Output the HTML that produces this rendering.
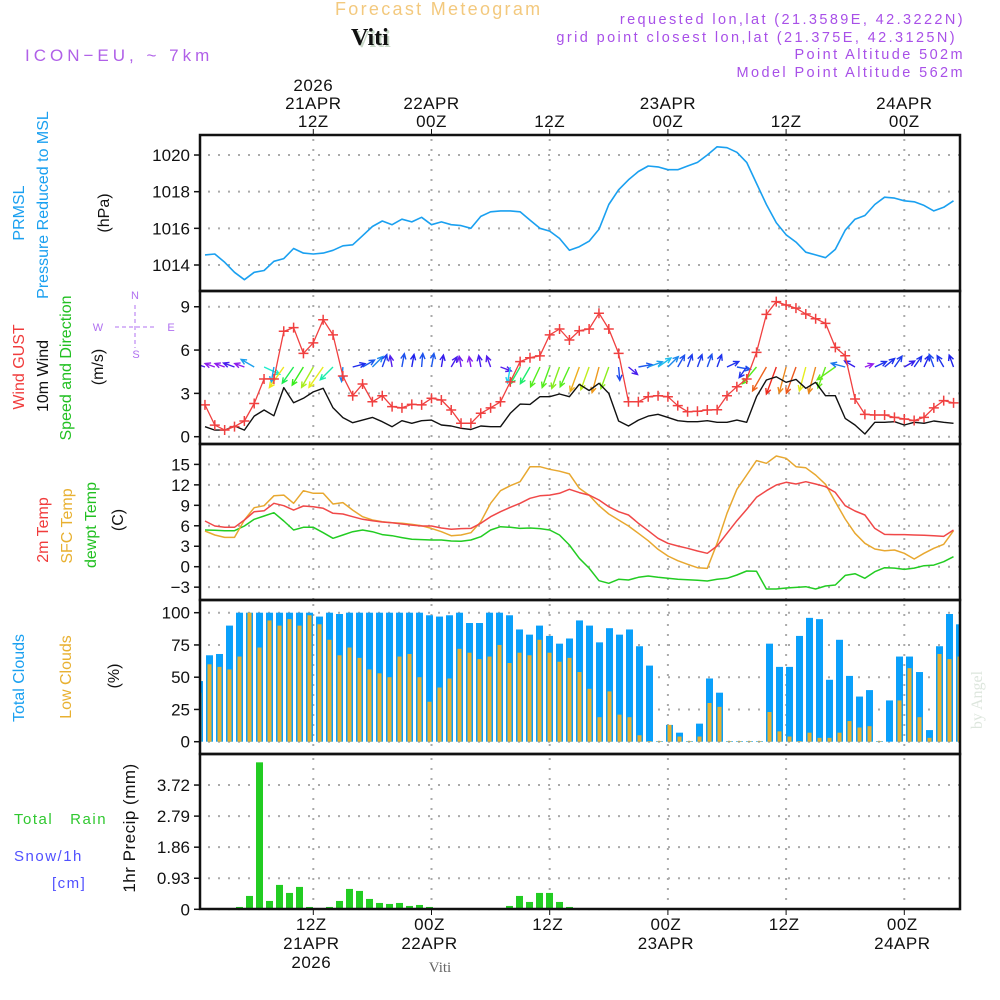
<!DOCTYPE html>
<html><head><meta charset="utf-8"><title>Forecast Meteogram - Viti</title>
<style>
html,body{margin:0;padding:0;background:#fff;}
svg{display:block;font-family:"Liberation Sans",sans-serif;}
.tk{font-size:17px;fill:#111;}
.ax{font-size:17px;fill:#111;letter-spacing:0.5px;}
</style></head>
<body>
<svg id="chart" width="1000" height="1000" viewBox="0 0 1000 1000" xmlns="http://www.w3.org/2000/svg">
<defs>
<clipPath id="plotclip"><rect x="200" y="135" width="760" height="775"/></clipPath>
</defs>
<!-- header -->
<text x="335" y="15" font-size="18" fill="#f3c97e" letter-spacing="2.3">Forecast Meteogram</text>
<text x="353" y="47" font-family="Liberation Serif, serif" font-weight="bold" font-size="24" fill="#c8d8c8">Viti</text>
<text x="351" y="45" font-family="Liberation Serif, serif" font-weight="bold" font-size="24" fill="#111">Viti</text>
<text x="25" y="61" font-size="17" fill="#b060e8" letter-spacing="4">ICON−EU, ~ 7km</text>
<g font-size="14.5" fill="#a850e8" text-anchor="end" letter-spacing="2.4">
<text x="965" y="24">requested lon,lat (21.3589E, 42.3222N)</text>
<text x="957" y="42">grid point closest lon,lat (21.375E, 42.3125N)</text>
<text x="965" y="59">Point Altitude 502m</text>
<text x="965" y="77">Model Point Altitude 562m</text>
</g>
<!-- left labels -->
<g font-size="16">
<text transform="translate(24,213) rotate(-90)" text-anchor="middle" fill="#1aa0f0">PRMSL</text>
<text transform="translate(48,205) rotate(-90)" text-anchor="middle" fill="#1aa0f0">Pressure Reduced to MSL</text>
<text transform="translate(109,213) rotate(-90)" text-anchor="middle" fill="#111">(hPa)</text>
</g>
<g font-size="16">
<text transform="translate(24,367) rotate(-90)" text-anchor="middle" fill="#f03c3c">Wind GUST</text>
<text transform="translate(48,376) rotate(-90)" text-anchor="middle" fill="#111">10m Wind</text>
<text transform="translate(71,368) rotate(-90)" text-anchor="middle" fill="#22c022">Speed and Direction</text>
<text transform="translate(103,367) rotate(-90)" text-anchor="middle" fill="#111">(m/s)</text>
</g>
<g font-size="11" fill="#b070f0" stroke="none">
<text x="135" y="299" text-anchor="middle">N</text>
<text x="98" y="331" text-anchor="middle">W</text>
<text x="171" y="331" text-anchor="middle">E</text>
<text x="136" y="358" text-anchor="middle">S</text>
<line x1="135" y1="305" x2="135" y2="348" stroke="#b070f0" stroke-width="1" stroke-dasharray="4,3"/>
<line x1="115" y1="327" x2="157" y2="327" stroke="#b070f0" stroke-width="1" stroke-dasharray="4,3"/>
</g>
<g font-size="16">
<text transform="translate(48,530) rotate(-90)" text-anchor="middle" fill="#f03c3c">2m Temp</text>
<text transform="translate(72,526) rotate(-90)" text-anchor="middle" fill="#e8b030">SFC Temp</text>
<text transform="translate(96,525) rotate(-90)" text-anchor="middle" fill="#22c022">dewpt Temp</text>
<text transform="translate(123,520) rotate(-90)" text-anchor="middle" fill="#111">(C)</text>
</g>
<g font-size="16">
<text transform="translate(24,678) rotate(-90)" text-anchor="middle" fill="#1aa0f0">Total Clouds</text>
<text transform="translate(71,677) rotate(-90)" text-anchor="middle" fill="#e8b030">Low Clouds</text>
<text transform="translate(119,676) rotate(-90)" text-anchor="middle" fill="#111">(%)</text>
</g>
<g font-size="15" letter-spacing="1.5">
<text x="14" y="824" fill="#30c830">Total&#160;&#160;&#160;Rain</text>
<text x="14" y="861" fill="#5050ff">Snow/1h</text>
<text x="52" y="888" fill="#5050ff">[cm]</text>
<text transform="translate(135,828) rotate(-90)" text-anchor="middle" font-size="17" fill="#111" letter-spacing="0.5">1hr Precip (mm)</text>
</g>
<text transform="translate(982,700) rotate(-90)" text-anchor="middle" font-family="Liberation Serif, serif" font-size="16" fill="#dde6dd">by Angel</text>
<text x="440" y="972" text-anchor="middle" font-family="Liberation Serif, serif" font-size="15" fill="#666">Viti</text>
<g id="grid"></g>
<g id="marks" clip-path="url(#plotclip)"></g>
<g id="frames"></g>
<g id="ticks"></g>
</svg>
<script>
// ===== data (hourly, h = 1..77 hours after 00Z 21APR) =====
const hoursStart = 1;
const pressure = [1014.55,1014.6,1014.15,1013.6,1013.2,1013.6,1013.7,1014.2,1014.35,1014.9,1014.65,1014.6,1014.65,1014.8,1015.05,1015.1,1015.6,1016.1,1016.4,1016.2,1016.5,1016.35,1016.6,1016.2,1016.35,1016.2,1016.15,1016.0,1016.65,1016.9,1016.95,1016.95,1016.9,1016.45,1016.0,1015.85,1015.45,1014.8,1015.0,1015.3,
1015.95,1017.3,1018.1,1018.65,1019.1,1019.4,1019.35,1019.2,1019.2,1019.4,1019.6,1020.0,1020.45,1020.4,1020.15,1019.6,1018.45,1017.3,1016.3,1015.65,1015.25,1014.7,1014.55,1014.4,1014.85,1015.9,1016.5,1016.7,1017.3,1017.7,1017.65,1017.5,1017.45,1017.25,1016.95,1017.15,1017.5];
const windGust = [2.2,0.8,0.46,0.7,1.09,2.3,4.0,4.0,7.3,7.55,5.77,6.5,8.1,7.05,4.2,2.84,3.65,2.42,2.84,2.08,2.0,2.24,2.2,2.66,2.54,1.85,0.93,0.93,1.62,2.0,2.42,3.8,5.2,5.47,5.6,7.05,7.46,6.7,7.34,7.46,
8.55,7.46,5.77,2.42,2.42,2.77,2.84,2.77,2.15,1.73,1.76,1.85,1.87,2.84,3.46,4.0,5.84,8.47,9.35,9.12,8.9,8.5,8.17,7.85,6.19,5.61,2.61,1.55,1.5,1.5,1.34,1.23,1.12,1.34,2.0,2.5,2.34];
const wind10m = [0.69,0.46,0.46,0.74,0.46,1.43,1.85,1.45,3.4,2.35,2.66,3.1,3.35,2.0,1.32,0.97,1.15,1.34,1.04,0.69,1.11,0.93,1.11,1.15,0.81,0.74,0.58,0.5,0.74,0.69,0.69,1.62,2.26,2.24,2.77,2.77,2.96,2.77,3.63,3.2,
3.7,3.0,1.09,0.74,1.15,1.43,1.55,1.34,1.11,1.04,1.04,1.11,1.0,1.0,1.15,1.0,2.77,3.93,4.15,3.77,3.97,3.35,3.77,2.84,2.84,1.27,0.81,0.19,1.0,1.0,1.04,0.81,1.0,0.93,1.09,1.0,0.93];
// direction the wind blows TOWARD, degrees clockwise from north
const windDirTo = [290,290,290,290,290,300,115,190,215,215,212,210,215,225,185,75,60,45,20,350,10,10,5,10,10,30,350,350,350,340,110,190,210,210,205,200,200,205,200,200,
195,200,175,130,80,70,55,45,30,20,20,20,20,65,100,215,220,210,200,195,200,195,195,200,235,285,300,70,65,50,35,60,35,25,340,330,340];
const temp2m = [6.7,5.97,5.77,5.77,6.85,8.07,8.2,9.3,8.95,8.3,8.9,8.8,8.56,7.83,7.73,7.33,6.95,6.75,6.55,6.45,6.26,6.1,5.97,5.97,5.67,5.48,5.58,5.62,6.36,7.33,8.07,8.71,9.3,10.03,10.4,10.5,10.76,11.35,10.86,10.5,
9.78,8.8,8.07,7.58,6.36,5.28,4.16,3.43,3.04,2.7,2.3,1.96,3.04,4.9,6.75,8.4,10.17,11.15,11.98,12.37,12.13,12.47,12.13,11.73,10.9,8.95,8.17,7.58,5.62,4.74,4.7,4.7,4.65,4.6,4.55,4.45,5.38];
const tempSfc = [5.23,4.65,4.3,4.3,6.85,8.65,8.95,10.4,10.5,9.3,11.15,10.76,10.76,9.2,9.4,8.3,7.33,6.85,6.6,6.45,6.36,6.2,6.0,5.62,5.13,4.55,4.65,4.99,6.6,9.3,11.15,11.88,12.47,14.66,14.66,14.28,14.0,13.6,11.5,10.5,
8.95,7.73,6.85,5.97,4.9,3.81,2.55,1.57,0.88,0.35,-0.15,-0.25,3.43,7.83,11.35,13.45,15.55,15.16,16.23,15.9,14.66,14.5,13.45,12.08,9.53,7.0,4.9,3.43,2.6,2.35,2.45,1.96,1.13,1.96,2.7,3.28,5.28];
const dewpoint = [5.38,5.33,5.28,5.28,5.97,6.95,7.43,7.92,6.7,5.38,5.77,5.77,4.99,4.16,4.65,5.13,5.38,5.13,4.7,4.55,4.26,4.02,3.97,3.91,3.91,3.77,3.72,3.91,4.4,5.38,5.87,5.77,5.62,5.67,5.58,5.38,4.65,3.18,1.23,-0.2,
-2.05,-2.44,-1.85,-1.95,-1.56,-1.37,-1.56,-1.7,-1.85,-1.9,-2.0,-2.1,-1.85,-1.7,-1.22,-0.63,-0.68,-3.27,-3.27,-3.12,-3.03,-2.93,-3.27,-2.83,-2.69,-1.27,-1.03,-1.7,-0.73,-0.15,-0.2,-0.39,-0.2,0.15,0.24,0.73,1.47];
// bar series (one bar per slot, 78 slots)
const totalClouds = [47,67,68,90,100,100,100,100,100,100,100,100,97,100,99,100,100,100,100,100,100,100,100,98,97,98,100,92,92,100,100,98,87,83,90,82,76,80,94,90,77,88,83,87,74,59,0.5,13,7,0.5,14,49,38,0.5,0.5,0.5,0.5,76,58,58,82,96,95,48,79,51,35,40,0.5,32,66,66,54,9,74,99,91,100];
const lowClouds = [38,60,58,56,66,100,73,94,90,95,90,98,91,79,67,73,65,56,53,50,66,68,50,31,42,49,72,69,64,66,75,61,69,67,79,69,62,65,54,41,19,39,21,19,5,0.5,0.5,13,4,0.5,4,30,27,0.5,0.5,0.5,0.5,23,8,4,0.5,7,3,3,7,16,11,12,0.5,0,32,57,19,3,68,64,66,54];
const precip = [0,0,0,0,0.07,0.4,4.4,0.25,0.73,0.49,0.67,0.07,0,0.07,0.25,0.61,0.55,0.31,0.19,0.16,0.19,0.1,0.13,0.07,0,0,0,0,0,0,0,0.1,0.4,0.22,0.49,0.49,0.22,0.07,0,0,0,0,0,0,0,0,0,0,0,0,0,0,0,0,0,0,0,0,0,0,0,0,0,0,0,0,0,0,0,0,0,0,0,0,0,0,0,0];
// tick labels
const pressureTicks = [1014,1016,1018,1020];
const windTicks = [0,3,6,9];
const tempTicks = [-3,0,3,6,9,12,15];
const cloudTicks = [0,25,50,75,100];
const precipTicks = [0,0.93,1.86,2.79,3.72];
const timeTickHours = [12,24,36,48,60,72];
const topLabels = [["2026\n21APR\n12Z"],["22APR\n00Z"],["12Z"],["23APR\n00Z"],["12Z"],["24APR\n00Z"]];
const bottomLabels = [["12Z\n21APR\n2026"],["00Z\n22APR"],["12Z"],["00Z\n23APR"],["12Z"],["00Z\n24APR"]];

// ===== scales =====
const X0 = 200, X1 = 960;
const xh = h => 313.3 + (h - 12) * 9.85;
const xb = j => 196 + 10 * j;
const yP = p => 265 - (p - 1014) * 18.33;
const yW = v => 436.7 - v * 14.44;
const yT = t => 566.7 - t * 6.82;
const yC = c => 741.7 - c * 1.29;
const yR = r => 909.3 - r * 33.4;
const panels = [
  {top:135, bot:291, ticks:pressureTicks, y:yP, fmt:v=>String(v), name:'pressure'},
  {top:291, bot:444, ticks:windTicks, y:yW, fmt:v=>String(v), name:'wind'},
  {top:444, bot:600, ticks:tempTicks, y:yT, fmt:v=>(v<0?'−'+(-v):String(v)), name:'temperature'},
  {top:600, bot:754, ticks:cloudTicks, y:yC, fmt:v=>String(v), name:'clouds'},
  {top:754, bot:909, ticks:precipTicks, y:yR, fmt:v=>String(v), name:'precip'}
];
const NS = 'http://www.w3.org/2000/svg';
function mk(tag, attrs, parent){
  const e = document.createElementNS(NS, tag);
  for (const k in attrs) e.setAttribute(k, attrs[k]);
  parent.appendChild(e);
  return e;
}
const grid = document.getElementById('grid');
const marks = document.getElementById('marks');
const frames = document.getElementById('frames');
const ticksG = document.getElementById('ticks');

panels.forEach(p => {
  p.ticks.forEach(v => {
    const y = p.y(v);
    const g = mk('line', {x1:X0+8, x2:X1, y1:y, y2:y, stroke:'#aaa', 'stroke-width':2, 'stroke-dasharray':'2,8'}, grid);
    
    
    const t = mk('line', {x1:X0-6, x2:X0, y1:y, y2:y, stroke:'#111', 'stroke-width':1.5}, ticksG);
    
    
    const lb = mk('text', {x:X0-10, y:y+6, 'text-anchor':'end', class:'tk'}, ticksG);
    lb.textContent = p.fmt(v);
    
    
  });
  timeTickHours.forEach(h => {
    const x = xh(h);
    const g = mk('line', {x1:x, x2:x, y1:p.top+4, y2:p.bot, stroke:'#aaa', 'stroke-width':2, 'stroke-dasharray':'2,8'}, grid);
    
    
  });
  const fr = mk('rect', {x:X0, y:p.top, width:X1-X0, height:p.bot-p.top, fill:'none', stroke:'#111', 'stroke-width':2.5}, frames);
  
  
});

timeTickHours.forEach((h, i) => {
  const x = xh(h);
  const t1 = mk('line', {x1:x, x2:x, y1:129, y2:135, stroke:'#111', 'stroke-width':1}, ticksG);
  
  
  const t2 = mk('line', {x1:x, x2:x, y1:909, y2:915, stroke:'#111', 'stroke-width':1}, ticksG);
  
  
  const tl = topLabels[i][0].split('\n');
  tl.forEach((s, k) => {
    const e = mk('text', {x:x, y:127 - (tl.length-1-k)*18, 'text-anchor':'middle', class:'ax'}, ticksG);
    e.textContent = s;
    
    
  });
  const bl = bottomLabels[i][0].split('\n');
  bl.forEach((s, k) => {
    const e = mk('text', {x:x-2, y:930 + k*19, 'text-anchor':'middle', class:'ax'}, ticksG);
    e.textContent = s;
    
    
  });
});

function linePath(arr, yf){
  return arr.map((v,i) => (i?'L':'M') + xh(hoursStart+i).toFixed(1) + ',' + yf(v).toFixed(1)).join('');
}
function addLine(arr, yf, color, name, w){
  const e = mk('path', {d:linePath(arr, yf), fill:'none', stroke:color, 'stroke-width':w||1.6, 'stroke-linejoin':'round'}, marks);
  
  
  return e;
}

addLine(pressure, yP, '#1aa0f0', 'pressure-line', 1.6);

function speedColor(s){
  let hue = 270 - (s - 0.5) * 73;
  hue = Math.max(0, Math.min(275, hue));
  return 'hsl(' + hue.toFixed(0) + ',85%,52%)';
}
windDirTo.forEach((d, i) => {
  const s = wind10m[i];
  const x = xh(hoursStart+i), y = 367;
  const len = 8 + 5 * s;
  const a = d * Math.PI / 180;
  const dx = Math.sin(a), dy = -Math.cos(a);
  const hx = x + dx*len, hy = y + dy*len;
  const c = speedColor(s);
  const hl = 6, sp = 0.45;
  const b1x = hx - hl*(dx*Math.cos(sp) - dy*Math.sin(sp)), b1y = hy - hl*(dy*Math.cos(sp) + dx*Math.sin(sp));
  const b2x = hx - hl*(dx*Math.cos(-sp) - dy*Math.sin(-sp)), b2y = hy - hl*(dy*Math.cos(-sp) + dx*Math.sin(-sp));
  const e = mk('path', {d:'M'+x.toFixed(1)+','+y.toFixed(1)+'L'+hx.toFixed(1)+','+hy.toFixed(1)+'M'+b1x.toFixed(1)+','+b1y.toFixed(1)+'L'+hx.toFixed(1)+','+hy.toFixed(1)+'L'+b2x.toFixed(1)+','+b2y.toFixed(1), fill:'none', stroke:c, 'stroke-width':1.4}, marks);
  
  
});

addLine(wind10m, yW, '#111', 'wind-10m-line', 1.4);
addLine(windGust, yW, '#f04040', 'wind-gust-line', 1.3);
windGust.forEach((v, i) => {
  const x = xh(hoursStart+i), y = yW(v);
  const e = mk('path', {d:'M'+(x-5)+','+y+'L'+(x+5)+','+y+'M'+x+','+(y-5)+'L'+x+','+(y+5), stroke:'#f04040', 'stroke-width':1.5}, marks);
  
  
});

addLine(dewpoint, yT, '#22cc22', 'dewpoint-line', 1.5);
addLine(tempSfc, yT, '#e8a830', 'sfc-temp-line', 1.5);
addLine(temp2m, yT, '#f04848', 'temp-2m-line', 1.5);

totalClouds.forEach((v, j) => {
  const x = xb(j);
  const e = mk('rect', {x:x, y:yC(v), width:7, height:yC(0)-yC(v), fill:'#0aa0fa'}, marks);
  
  
});
lowClouds.forEach((v, j) => {
  const x = xb(j);
  const e = mk('rect', {x:x+1.5, y:yC(v), width:4, height:yC(0)-yC(v), fill:'#e6b030'}, marks);
  
  
});

precip.forEach((v, j) => {
  if (v <= 0) return;
  const x = xb(j);
  const e = mk('rect', {x:x, y:yR(v), width:7, height:yR(0)-yR(v), fill:'#22cc22'}, marks);
  
  
});
const base = mk('line', {x1:X0, x2:X1, y1:yR(0), y2:yR(0), stroke:'#111', 'stroke-width':2, 'stroke-dasharray':'5,3'}, marks);


</script>
</body></html>
